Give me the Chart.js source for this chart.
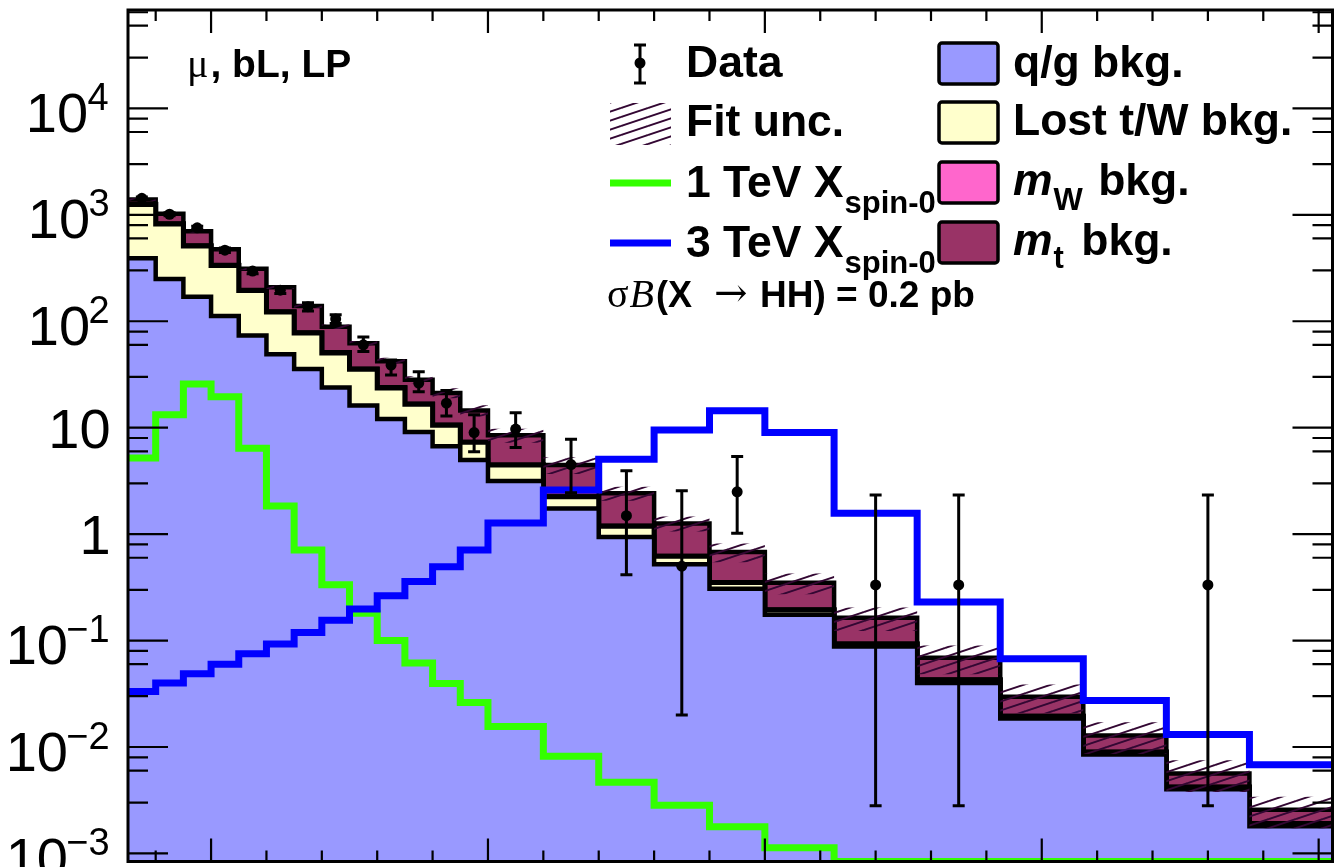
<!DOCTYPE html>
<html>
<head>
<meta charset="utf-8">
<script src="https://cdn.jsdelivr.net/npm/chart.js@4.4.1/dist/chart.umd.min.js"></script>
<style>
  html, body { margin: 0; padding: 0; background: #fff; }
  #wrap { width: 1338px; height: 867px; position: relative; }
</style>
</head>
<body>
<div id="wrap"><canvas id="myChart"></canvas></div>
<script>
'use strict';

// bin edges of the mass histogram
let binEdges = [700, 800, 900, 1000, 1100, 1200, 1300, 1400, 1500, 1600, 1700, 1800, 1900, 2000,
  2200, 2400, 2600, 2800, 3000, 3250, 3550, 3850, 4150, 4450, 4750, 5050];

// stacked backgrounds (bottom to top)
let qgBkg = [390, 249, 170, 112, 73.6, 49, 35.6, 23.8, 16.2, 12.1, 9.1, 6.7, 4.98, 3.16, 1.74, 0.94, 0.52, 0.306, 0.175, 0.088, 0.040, 0.0185, 0.0085, 0.0040, 0.0018];
let lostBkg = [860, 572, 340, 222, 121, 73, 42, 26.6, 19.2, 11.5, 7.5, 3.85, 2.3, 1.29, 0.5, 0.245, 0.098, 0.045, 0.019, 0.0048, 0.0027, 0.0009, 0.00044, 0.00019, 0.0001];
let mwBkg = [10, 5, 3, 2, 1, 1, 0.4, 0.4, 0.2, 0.2, 0.1, 0.05, 0.02, 0.02, 0.01, 0.005, 0.002, 0.001, 0.001, 0.0002, 0.0001, 0.0001, 0.00002, 0.00001, 0.00001];
let mtBkg = [130, 197, 189, 140, 115, 86, 61, 38.2, 26.4, 18.2, 11.5, 10.6, 7.2, 4.03, 2.22, 1.23, 0.64, 0.328, 0.155, 0.071, 0.0262, 0.0102, 0.0039, 0.00145, 0.00066];
let fitUncRel = [0.03, 0.03, 0.03, 0.03, 0.03, 0.04, 0.04, 0.05, 0.05, 0.08, 0.08, 0.11, 0.12, 0.15, 0.18, 0.15, 0.16, 0.20, 0.22, 0.25, 0.30, 0.30, 0.33, 0.33, 0.33];

// signals, sigma*B = 0.2 pb
let sig1TeV = [5.2, 13.2, 25.7, 19.5, 6.4, 1.84, 0.71, 0.334, 0.181, 0.100, 0.0615, 0.0394, 0.0262, 0.0156, 0.00817, 0.00466, 0.00283, 0.00178, 0.00113, 0.00084, 0.00084, 0.00084, 0.00084, 0.00084, 0.00084];
let sig3TeV = [0.0333, 0.040, 0.0488, 0.060, 0.075, 0.093, 0.119, 0.155, 0.198, 0.263, 0.359, 0.495, 0.711, 1.27, 2.60, 5.05, 9.5, 14.4, 9.0, 1.57, 0.23, 0.0675, 0.0274, 0.0131, 0.0068];

// data with error bar ends
let dataVals = [1430, 1012, 754, 465, 296, 196, 137, 105, 60, 38.8, 26.3, 17, 9.0, 9.7, 4.5, 1.49, 0.50, 2.5, null, 0.333, 0.333, null, null, 0.333, null];
let dataHigh = [1470, 1045, 782, 487, 313, 210, 149, 115, 71, 43.2, 33.5, 22.3, 13.2, 13.8, 7.8, 3.95, 2.56, 5.35, null, 2.33, 2.33, null, null, 2.33, null];
let dataLow = [1390, 980, 726, 443, 279, 182, 125, 95, 52, 31.3, 21.8, 12.9, 5.95, 6.5, 2.45, 0.415, 0.020, 1.02, null, 0.0028, 0.0028, null, null, 0.0028, null];

let yTickExps = [-3, -2, -1, 0, 1, 2, 3, 4];

const SANS = '"Liberation Sans", Arial, Helvetica, sans-serif';
const SERIF = '"Liberation Serif", "DejaVu Serif", "Times New Roman", serif';
const qgColor = '#9999ff';
const lostColor = '#ffffcc';
const mwColor = '#ff66cc';
const mtColor = '#993366';
const greenColor = '#33ff00';
const blueColor = '#0000ff';
const hatchColor = '#330733';

let ctx = document.getElementById('myChart').getContext('2d');

function makeHatch() {
  let pc = document.createElement('canvas');
  pc.width = 27;
  pc.height = 9;
  let p = pc.getContext('2d');
  p.strokeStyle = hatchColor;
  p.lineWidth = 1.9;
  for (let k = -1; k <= 1; k++) {
    p.beginPath();
    p.moveTo(0, 9 + k * 9);
    p.lineTo(27, k * 9);
    p.stroke();
  }
  return ctx.createPattern(pc, 'repeat');
}
let hatch = makeHatch();

function stepPoints(vals) {
  let pts = [];
  for (let i = 0; i < vals.length; i++) {
    pts.push({ x: binEdges[i], y: vals[i] });
    pts.push({ x: binEdges[i + 1], y: vals[i] });
  }
  return pts;
}

// cumulative stack
let stack1 = [], stack2 = [], stack3 = [], stack4 = [], uncUp = [], uncDown = [], binCenters = [];
for (let i = 0; i < qgBkg.length; i++) {
  stack1.push(qgBkg[i]);
  stack2.push(stack1[i] + lostBkg[i]);
  stack3.push(stack2[i] + mwBkg[i]);
  stack4.push(stack3[i] + mtBkg[i]);
  uncUp.push(stack4[i] * (1 + fitUncRel[i]));
  uncDown.push(stack4[i] * (1 - fitUncRel[i]));
  binCenters.push((binEdges[i] + binEdges[i + 1]) / 2);
}

let dataPoints = [];
for (let i = 0; i < dataVals.length; i++) {
  if (dataVals[i] !== null) {
    dataPoints.push({ x: binCenters[i], y: dataVals[i] });
  }
}

function histo(vals, fillColor, width) {
  return {
    data: stepPoints(vals),
    borderColor: '#000',
    borderWidth: width,
    backgroundColor: fillColor,
    fill: 'start',
    pointRadius: 0,
    borderJoinStyle: 'miter',
    tension: 0
  };
}

function textRun(c, parts, x, y) {
  for (let i = 0; i < parts.length; i++) {
    let p = parts[i];
    c.font = p.font;
    if (p.gap) x += p.gap;
    if (p.at) x = p.at;
    c.fillText(p.text, x, y + (p.dy || 0));
    x += c.measureText(p.text).width;
  }
  return x;
}

const rootStyle = {
  id: 'rootStyle',
  afterDatasetsDraw(chart) {
    let c = chart.ctx;
    let xs = chart.scales.x;
    let ys = chart.scales.y;
    let a = chart.chartArea;
    c.save();

    // error bars
    c.strokeStyle = '#000';
    c.lineWidth = 3;
    for (let i = 0; i < dataVals.length; i++) {
      if (dataVals[i] === null) continue;
      let px = xs.getPixelForValue(binCenters[i]);
      let yHi = ys.getPixelForValue(dataHigh[i]);
      let yLo = ys.getPixelForValue(dataLow[i]);
      c.beginPath();
      c.moveTo(px, yHi);
      c.lineTo(px, yLo);
      c.moveTo(px - 6, yHi);
      c.lineTo(px + 6, yHi);
      c.moveTo(px - 6, yLo);
      c.lineTo(px + 6, yLo);
      c.stroke();
    }

    // ticks
    c.lineWidth = 2.2;
    c.beginPath();
    ys.ticks.forEach(t => {
      let py = ys.getPixelForValue(t.value);
      let len = t.major ? 40 : 20;
      c.moveTo(a.left, py);
      c.lineTo(a.left + len, py);
      c.moveTo(a.right, py);
      c.lineTo(a.right - len, py);
    });
    xs.ticks.forEach(t => {
      let px = xs.getPixelForValue(t.value);
      let len = t.major ? 23 : 11;
      c.moveTo(px, a.top);
      c.lineTo(px, a.top + len);
      c.moveTo(px, a.bottom);
      c.lineTo(px, a.bottom - len);
    });
    c.stroke();

    // frame
    c.lineWidth = 3;
    c.strokeRect(a.left, a.top, a.right - a.left, a.bottom - a.top);

    // y labels
    c.fillStyle = '#000';
    c.textAlign = 'left';
    c.textBaseline = 'alphabetic';
    let inkRight = 108.5;
    ys.ticks.filter(t => t.major).forEach(t => {
      let py = ys.getPixelForValue(t.value);
      let e = t.exp;
      if (e === 0 || e === 1) {
        let s = e === 0 ? '1' : '10';
        c.font = '56px ' + SANS;
        let m = c.measureText(s);
        c.fillText(s, inkRight - m.actualBoundingBoxRight, py + 20);
      } else {
        let s = String(e).replace('-', '\u2212');
        c.font = '38px ' + SANS;
        let m = c.measureText(s);
        let sx = inkRight - m.actualBoundingBoxRight;
        c.fillText(s, sx, py + 1.5);
        let left = sx - m.actualBoundingBoxLeft;
        c.font = '56px ' + SANS;
        let m2 = c.measureText('10');
        c.fillText('10', left - 1.5 - m2.actualBoundingBoxRight, py + 23.5);
      }
    });

    // top-left label
    textRun(c, [
      { text: '\u03bc', font: '40px ' + SERIF },
      { text: ', bL, LP', font: 'bold 39px ' + SANS, gap: 2 }
    ], 187, 77);

    // legend column 1
    let big = 'bold 44.5px ' + SANS;
    let sub = 'bold 31px ' + SANS;
    c.strokeStyle = '#000';
    c.lineWidth = 3;
    c.beginPath();
    c.moveTo(640, 45); c.lineTo(640, 83);
    c.moveTo(634, 45); c.lineTo(646, 45);
    c.moveTo(634, 83); c.lineTo(646, 83);
    c.stroke();
    c.beginPath();
    c.arc(640, 63, 5.5, 0, Math.PI * 2);
    c.fill();
    textRun(c, [{ text: 'Data', font: big }], 686, 77);

    c.fillStyle = hatch;
    c.fillRect(610, 103, 61, 42);
    c.fillStyle = '#000';
    textRun(c, [{ text: 'Fit unc.', font: big }], 686, 136);

    c.lineWidth = 7;
    c.strokeStyle = greenColor;
    c.beginPath(); c.moveTo(610, 183); c.lineTo(671, 183); c.stroke();
    textRun(c, [{ text: '1 TeV X', font: big }, { text: 'spin-0', font: sub, dy: 16, gap: 1 }], 686, 197);
    c.strokeStyle = blueColor;
    c.beginPath(); c.moveTo(610, 243); c.lineTo(671, 243); c.stroke();
    textRun(c, [{ text: '3 TeV X', font: big }, { text: 'spin-0', font: sub, dy: 16, gap: 1 }], 686, 257);

    textRun(c, [
      { text: '\u03c3', font: '40px ' + SERIF },
      { text: 'B', font: 'italic 40px ' + SERIF, gap: 1 },
      { text: '(X', font: 'bold 36px ' + SANS, at: 656 },
      { text: '\u2192', font: '40px "DejaVu Serif", ' + SERIF, at: 714, dy: -1 },
      { text: 'HH) = 0.2 pb', font: 'bold 37px ' + SANS, at: 760 }
    ], 607, 307);

    // legend column 2
    let boxes = [[43, qgColor], [102, lostColor], [162, mwColor], [222, mtColor]];
    c.lineWidth = 3.5;
    c.strokeStyle = '#000';
    boxes.forEach(b => {
      c.fillStyle = b[1];
      c.beginPath();
      c.roundRect(939, b[0], 59, 41, 3);
      c.fill();
      c.stroke();
    });
    c.fillStyle = '#000';
    textRun(c, [{ text: 'q/g bkg.', font: big }], 1013, 77);
    textRun(c, [{ text: 'Lost t/W bkg.', font: big }], 1013, 135);
    textRun(c, [
      { text: 'm', font: 'italic bold 44.5px ' + SANS },
      { text: 'W', font: sub, dy: 15, gap: 1 },
      { text: ' bkg.', font: big, gap: 3 }
    ], 1013, 195);
    textRun(c, [
      { text: 'm', font: 'italic bold 44.5px ' + SANS },
      { text: 't', font: sub, dy: 13, gap: 1 },
      { text: ' bkg.', font: big, gap: 5 }
    ], 1013, 255);

    c.restore();
  }
};

let myChart = new Chart(ctx, {
  type: 'line',
  data: {
    datasets: [
      {
        label: 'Data',
        data: dataPoints,
        showLine: false,
        pointRadius: 5.5,
        pointBackgroundColor: '#000',
        pointBorderWidth: 0
      },
      {
        label: '3 TeV',
        data: stepPoints(sig3TeV),
        borderColor: blueColor,
        borderWidth: 7,
        fill: false,
        pointRadius: 0,
        borderJoinStyle: 'miter'
      },
      {
        label: '1 TeV',
        data: stepPoints(sig1TeV),
        borderColor: greenColor,
        borderWidth: 7,
        fill: false,
        pointRadius: 0,
        borderJoinStyle: 'miter'
      },
      {
        label: 'Fit unc.',
        data: stepPoints(uncUp),
        borderColor: 'rgba(0,0,0,0)',
        borderWidth: 1,
        backgroundColor: hatch,
        fill: '+1',
        pointRadius: 0
      },
      {
        label: 'unc low',
        data: stepPoints(uncDown),
        borderColor: 'rgba(0,0,0,0)',
        borderWidth: 1,
        fill: false,
        pointRadius: 0
      },
      Object.assign(histo(stack1, qgColor, 4.5), { label: 'q/g bkg.' }),
      Object.assign(histo(stack2, lostColor, 5), { label: 'Lost t/W bkg.' }),
      Object.assign(histo(stack3, mwColor, 5), { label: 'mW bkg.' }),
      Object.assign(histo(stack4, mtColor, 4.5), { label: 'mt bkg.' })
    ]
  },
  options: {
    responsive: true,
    maintainAspectRatio: false,
    animation: false,
    layout: { padding: { left: 128, top: 10, right: 1, bottom: 5 } },
    plugins: {
      legend: { display: false },
      tooltip: { enabled: false }
    },
    scales: {
      x: {
        type: 'linear',
        min: 700,
        max: 5050,
        display: false,
        afterBuildTicks: (axis) => {
          let t = [];
          for (let v = 800; v <= 5000; v += 100) {
            t.push({ value: v, major: v % 500 === 0 });
          }
          axis.ticks = t;
        }
      },
      y: {
        type: 'logarithmic',
        min: 8.4e-4,
        max: 8.4e4,
        display: false,
        afterBuildTicks: (axis) => {
          let t = [];
          for (let e = -4; e <= 4; e++) {
            for (let m = 1; m <= 9; m++) {
              let v = m * Math.pow(10, e);
              if (v >= 8.4e-4 && v <= 8.4e4) {
                t.push({ value: v, major: m === 1 && yTickExps.includes(e), exp: e });
              }
            }
          }
          axis.ticks = t;
        }
      }
    }
  },
  plugins: [rootStyle]
});
</script>
</body>
</html>
